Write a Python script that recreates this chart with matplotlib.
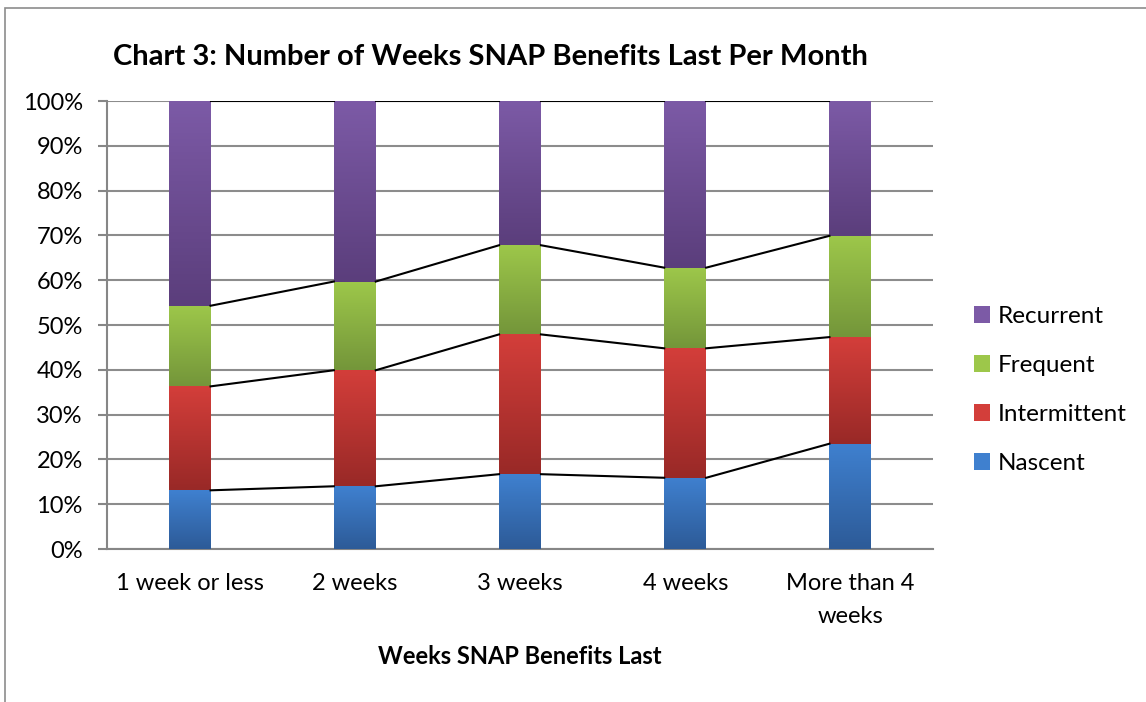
import numpy as np
import matplotlib
matplotlib.use("Agg")
import matplotlib.pyplot as plt
from matplotlib.patches import Rectangle
from matplotlib.colors import LinearSegmentedColormap

categories = ["1 week or less", "2 weeks", "3 weeks", "4 weeks", "More than 4\nweeks"]
nascent = [13.1, 14.0, 16.7, 15.9, 23.5]
intermittent = [23.2, 25.9, 31.2, 28.9, 23.8]
frequent = [18.0, 19.8, 19.9, 18.0, 22.6]
recurrent = [45.7, 40.3, 32.2, 37.2, 30.1]
series_names = ["Nascent", "Intermittent", "Frequent", "Recurrent"]
series_vals = [nascent, intermittent, frequent, recurrent]
# (top colour, bottom colour)
grad_colors = [("#3F80CF", "#2D5B98"), ("#D33E3A", "#992927"),
               ("#9DC74A", "#74963A"), ("#7C5AA6", "#5B3E7C")]

plt.rcParams['font.family'] = ['Lato', 'DejaVu Sans']

fig = plt.figure(figsize=(11.46, 7.02), dpi=100)
ax = fig.add_axes([107/1146, 1-549/702, (933-107)/1146, (549-101)/702])

x = np.arange(len(categories))
w = 0.254
bottom = np.zeros(len(categories))
tops = []
for vals, (ctop, cbot), name in zip(series_vals, grad_colors, series_names):
    vals = np.array(vals)
    bars = ax.bar(x, vals, w, bottom=bottom, color=ctop, label=name, zorder=3, linewidth=0)
    cmap = LinearSegmentedColormap.from_list(name, [cbot, ctop])
    grad = np.linspace(0, 1, 64).reshape(-1, 1)
    for b in bars:
        bx, by = b.get_x(), b.get_y()
        bw, bh = b.get_width(), b.get_height()
        im = ax.imshow(grad, cmap=cmap, origin='lower', aspect='auto',
                       extent=[bx, bx + bw, by, by + bh], zorder=3.5)
        im.set_clip_path(b)
    bottom = bottom + vals
    tops.append(bottom.copy())

# series lines connecting bar edges
for t in tops:
    for i in range(len(categories) - 1):
        ax.plot([x[i] + w/2, x[i+1] - w/2], [t[i], t[i+1]], color='black', lw=1.5, zorder=4)

ax.set_xlim(-0.5, len(categories) - 0.5)
ax.set_ylim(0, 100)
ax.set_aspect('auto')
ax.set_yticks(np.arange(0, 101, 10))
ax.set_yticklabels([f"{v}%" for v in range(0, 101, 10)], fontsize=17)
ax.set_xticks(x)
ax.set_xticklabels(categories, fontsize=17, linespacing=1.75)
ax.tick_params(axis='x', length=0, pad=17)
ax.tick_params(axis='y', length=6.5, width=1.5, color='#868686', direction='out', pad=11)
ax.yaxis.grid(True, color='#8c8c8c', lw=1.5, zorder=0)
ax.set_axisbelow(True)
for s in ['top', 'right']:
    ax.spines[s].set_visible(False)
for s in ['left', 'bottom']:
    ax.spines[s].set_color('#868686')
    ax.spines[s].set_linewidth(1.5)

fig.text(520/1146, 1-657/702, "Weeks SNAP Benefits Last", fontsize=17, fontweight='bold',
         ha='center', va='center')
fig.text(490/1146, 1-57/702, "Chart 3: Number of Weeks SNAP Benefits Last Per Month",
         fontsize=21, fontweight='bold', ha='center', va='center')

handles, labels = ax.get_legend_handles_labels()
leg = fig.legend(handles[::-1], labels[::-1], loc='center left',
                 bbox_to_anchor=(952/1146, 1-390/702), frameon=False, fontsize=17.5,
                 handlelength=0.65, handleheight=0.65, labelspacing=1.15, handletextpad=0.35)

fig.add_artist(Rectangle((5/1146, -0.1), 1.2, 1 - 8/702 + 0.1, transform=fig.transFigure,
                         fill=False, edgecolor='#8c8c8c', lw=1.2))

fig.savefig("out.png", dpi=100)
